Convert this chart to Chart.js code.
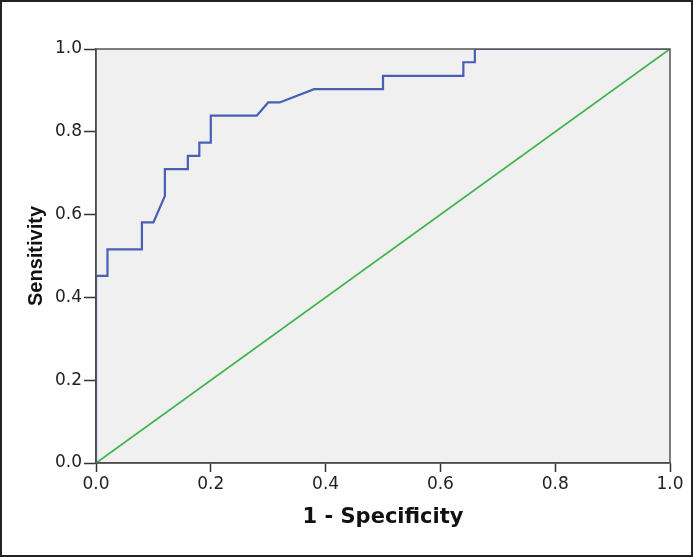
<!DOCTYPE html>
<html>
<head>
<meta charset="utf-8">
<script src="https://cdn.jsdelivr.net/npm/chart.js@4"></script>
<style>
  html, body { margin: 0; padding: 0; background: #fff; }
  #wrap { width: 693px; height: 557px; }
</style>
</head>
<body>
<div id="wrap"><canvas id="roc" width="693" height="557"></canvas></div>
<script>
// ROC curve
const fpr = [0, 0, 0.02, 0.02, 0.08, 0.08, 0.10, 0.12, 0.12, 0.16, 0.16, 0.18, 0.18, 0.20, 0.20, 0.28, 0.30, 0.32, 0.38, 0.50, 0.50, 0.64, 0.64, 0.66, 0.66, 1.0];
const tpr = [0, 0.452, 0.452, 0.516, 0.516, 0.581, 0.581, 0.645, 0.710, 0.710, 0.742, 0.742, 0.774, 0.774, 0.839, 0.839, 0.871, 0.871, 0.903, 0.903, 0.935, 0.935, 0.968, 0.968, 1.0, 1.0];
// reference line
const refX = [0, 1];
const refY = [0, 1];
const tickValues = [0, 0.2, 0.4, 0.6, 0.8, 1.0];

const rocPoints = fpr.map((x, i) => ({ x: x, y: tpr[i] }));
const refPoints = refX.map((x, i) => ({ x: x, y: refY[i] }));

// plot background + frame + outer border
const framePlugin = {
    id: 'frame',
    beforeDraw(chart) {
        const { ctx, chartArea: a } = chart;
        ctx.save();
        ctx.fillStyle = '#f0f0f0';
        ctx.fillRect(a.left, a.top, a.right - a.left, a.bottom - a.top);
        ctx.restore();
    },
    afterDraw(chart) {
        const { ctx, chartArea: a } = chart;
        ctx.save();
        ctx.strokeStyle = '#555';
        ctx.lineWidth = 1.5;
        ctx.strokeRect(a.left, a.top, a.right - a.left, a.bottom - a.top);
        ctx.strokeStyle = '#222';
        ctx.lineWidth = 2;
        ctx.strokeRect(1, 1, chart.width - 2, chart.height - 2);
        ctx.restore();
    }
};

new Chart(document.getElementById('roc'), {
    type: 'scatter',
    data: {
        datasets: [{
            label: 'ROC',
            data: rocPoints,
            showLine: true,
            borderColor: '#4b5eb6',
            borderWidth: 2.2,
            pointRadius: 0,
            tension: 0
        }, {
            label: 'Reference',
            data: refPoints,
            showLine: true,
            borderColor: '#3fb24a',
            borderWidth: 1.8,
            pointRadius: 0,
            tension: 0
        }]
    },
    options: {
        responsive: false,
        animation: false,
        devicePixelRatio: 1,
        layout: { padding: { top: 49, right: 23, left: 0, bottom: 0 } },
        plugins: {
            legend: { display: false },
            tooltip: { enabled: false }
        },
        scales: {
            x: {
                type: 'linear',
                min: 0,
                max: 1,
                afterFit: function(scale) { scale.height = 94; },
                afterBuildTicks: function(scale) { scale.ticks = tickValues.map(v => ({ value: v })); },
                grid: { drawOnChartArea: false, drawTicks: true, tickLength: 9, tickColor: '#333', tickWidth: 1.5 },
                border: { display: true, color: '#333', width: 1.5 },
                ticks: {
                    padding: 2,
                    color: '#222',
                    font: { family: 'DejaVu Sans', size: 17 },
                    callback: function(value) { return value.toFixed(1); }
                },
                title: {
                    display: true,
                    text: '1 - Specificity',
                    color: '#111',
                    font: { family: 'DejaVu Sans', size: 21, weight: 'bold' },
                    padding: { top: 27, bottom: 27 }
                }
            },
            y: {
                type: 'linear',
                min: 0,
                max: 1,
                afterFit: function(scale) { scale.width = 96; },
                afterBuildTicks: function(scale) { scale.ticks = tickValues.map(v => ({ value: v })); },
                grid: { drawOnChartArea: false, drawTicks: true, tickLength: 12, tickColor: '#333', tickWidth: 1.5 },
                border: { display: true, color: '#333', width: 1.5 },
                ticks: {
                    padding: 2,
                    color: '#222',
                    font: { family: 'DejaVu Sans', size: 17 },
                    callback: function(value) { return value.toFixed(1); }
                },
                title: {
                    display: true,
                    text: 'Sensitivity',
                    color: '#111',
                    font: { family: 'Liberation Sans', size: 20, weight: 'bold' },
                    padding: { top: 24, bottom: 24 }
                }
            }
        }
    },
    plugins: [framePlugin]
});
</script>
</body>
</html>
